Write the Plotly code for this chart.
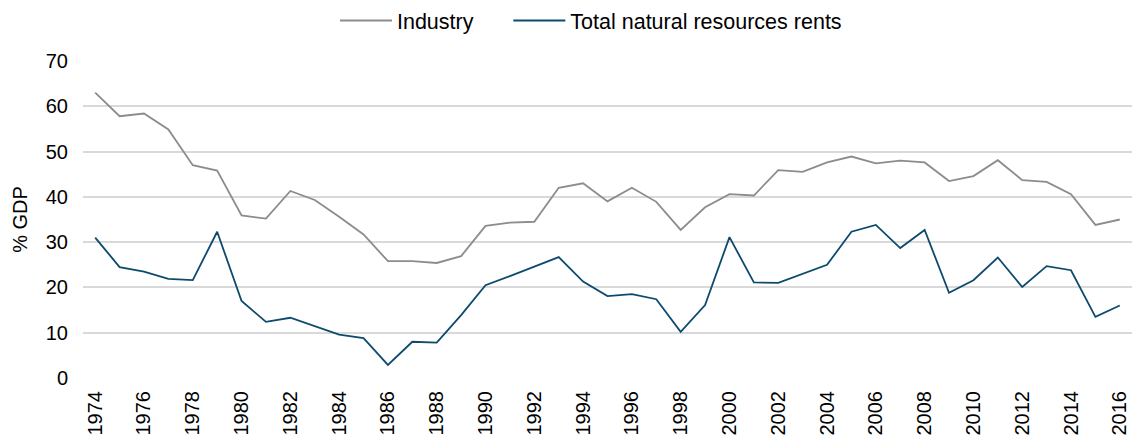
import plotly.graph_objects as go

years = list(range(1974, 2017))
industry = [63.0, 57.8, 58.4, 54.9, 47.0, 45.8, 35.9, 35.2, 41.3, 39.3,
            35.6, 31.7, 25.8, 25.8, 25.4, 26.9, 33.6, 34.3, 34.5, 42.0,
            43.0, 39.0, 42.0, 38.9, 32.7, 37.7, 40.6, 40.3, 45.9, 45.5,
            47.6, 48.9, 47.4, 48.0, 47.6, 43.5, 44.6, 48.1, 43.7, 43.3,
            40.6, 33.8, 35.0]
resources = [31.0, 24.5, 23.5, 21.9, 21.6, 32.3, 17.0, 12.4, 13.3, 11.5,
             9.6, 8.8, 2.9, 8.0, 7.8, 13.9, 20.5, 22.5, 24.6, 26.7,
             21.3, 18.1, 18.5, 17.4, 10.2, 16.1, 31.1, 21.1, 21.0, 23.0,
             25.0, 32.3, 33.8, 28.7, 32.7, 18.8, 21.6, 26.6, 20.1, 24.7,
             23.8, 13.5, 16.0]
tick_years = list(range(1974, 2017, 2))

pad = "\u00a0" * 5
fig = go.Figure()
fig.add_trace(go.Scatter(x=years, y=industry, mode="lines", name="Industry" + pad,
                         line=dict(color="#8c8c8c", width=1.8)))
fig.add_trace(go.Scatter(x=years, y=resources, mode="lines", name="Total natural resources rents",
                         line=dict(color="#0d4a6e", width=1.8)))

font_family = "Liberation Sans, Arial, sans-serif"
fs = 20
fig.update_layout(
    width=1133, height=441,
    margin=dict(l=83, r=1, t=61, b=63),
    paper_bgcolor="white", plot_bgcolor="white",
    font=dict(family=font_family, size=fs, color="#000000"),
    showlegend=True,
    legend=dict(orientation="h", x=0.5216, xanchor="center", xref="container",
                y=1.0, yanchor="top", yref="container", font=dict(size=21.5),
                itemwidth=52, traceorder="normal"),
    xaxis=dict(range=[1973.5, 2016.5], tickmode="array", tickvals=tick_years,
               ticktext=[str(y) for y in tick_years], tickangle=-90,
               showgrid=False, zeroline=False, showline=False, ticks="",
               ticklabelstandoff=8, tickfont=dict(size=fs)),
    yaxis=dict(range=[0, 70], dtick=10, showgrid=True, gridcolor="#d9d9d9",
               gridwidth=1.5, zeroline=False, showline=False, ticks="",
               ticklabelstandoff=14, tickfont=dict(size=fs),
               title=dict(text="% GDP", font=dict(size=fs), standoff=12)),
)
fig.write_html("out.html", config={"displayModeBar": False},
               post_script="document.body.style.margin='0';document.body.style.overflow='hidden';")
